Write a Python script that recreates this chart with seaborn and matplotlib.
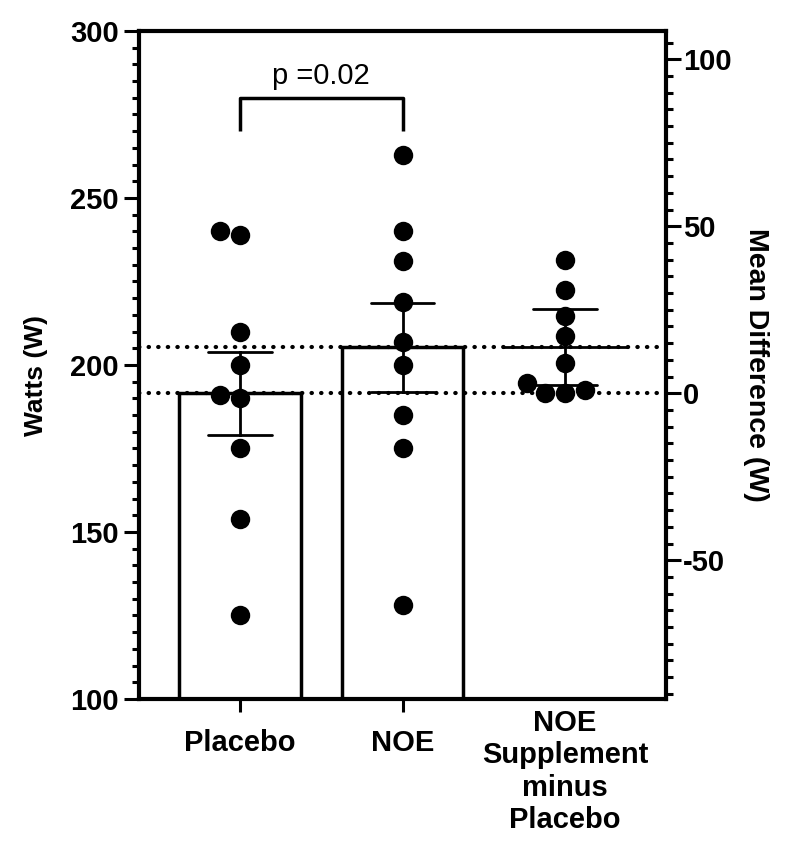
import matplotlib
matplotlib.use("Agg")
import matplotlib.pyplot as plt
from matplotlib.ticker import MultipleLocator
from matplotlib.transforms import ScaledTranslation
import seaborn as sns
import numpy as np
import pandas as pd

# values
categories = ["Placebo", "NOE", "NOE\nSupplement\nminus\nPlacebo"]
placebo_watts = [239, 240, 210, 200, 191, 190, 175, 154, 125]
noe_watts = [263, 240, 231, 219, 207, 200, 185, 175, 128]
diff_watts = [40, 31, 23, 17, 9, 3, 0, 0, 1]
p_text = "p =0.02"
bracket_top = 280
bracket_leg = 270
t_crit = 2.306   # t(0.975, df=8) -> 95% CI of the mean difference

sns.set_style("ticks")
plt.rcParams["font.family"] = ["Liberation Sans", "DejaVu Sans"]
plt.rcParams["font.weight"] = "bold"
plt.rcParams["axes.labelweight"] = "bold"
plt.rcParams["axes.unicode_minus"] = False
for k in ["text.color", "axes.labelcolor", "xtick.color", "ytick.color",
          "axes.edgecolor"]:
    plt.rcParams[k] = "black"

df = pd.DataFrame({
    "group": [categories[0]] * len(placebo_watts) + [categories[1]] * len(noe_watts),
    "watts": placebo_watts + noe_watts,
})
dd = pd.DataFrame({"group": [categories[2]] * len(diff_watts), "diff": diff_watts})

placebo_mean = np.mean(placebo_watts)
noe_mean = np.mean(noe_watts)


def ci95(x):
    m = np.mean(x)
    h = t_crit * np.std(x, ddof=1) / np.sqrt(len(x))
    return m - h, m + h


fig = plt.figure(figsize=(7.91, 8.63), dpi=100)
ax = fig.add_axes([139 / 791, 1 - 699 / 863, 527 / 791, 668 / 863])
ax2 = ax.twinx()

# bars with SEM
sns.barplot(data=df, x="group", y="watts", order=categories, errorbar="se",
            capsize=0.39, width=0.75, color="white", saturation=1,
            edgecolor="black", linewidth=2.5,
            err_kws={"color": "black", "linewidth": 2}, ax=ax)
sns.swarmplot(data=df, x="group", y="watts", order=categories, color="black",
              size=14, linewidth=0, ax=ax)

# dotted reference lines at both means
for m in (placebo_mean, noe_mean):
    ax.axhline(m, color="black", lw=3, linestyle=(0, (0.1, 2.2)),
               dash_capstyle="round")

# difference on right axis
sns.swarmplot(data=dd, x="group", y="diff", order=categories, color="black",
              size=14, linewidth=0, ax=ax2)
sns.pointplot(data=dd, x="group", y="diff", order=categories, errorbar=ci95,
              capsize=0.39, color="black", marker="_", markersize=91,
              markeredgewidth=2, linestyle="none",
              err_kws={"linewidth": 2}, ax=ax2)

ax.set_ylim(100, 300)
ax2.set_ylim(100 - placebo_mean, 300 - placebo_mean)
ax.set_xlim(-0.62, 2.62)

# significance bracket
ax.plot([0, 0, 1, 1], [bracket_leg, bracket_top, bracket_top, bracket_leg],
        color="black", lw=2.5, solid_capstyle="butt", clip_on=False)
ax.text(0.5, bracket_top + 4, p_text, ha="center", va="baseline",
        fontsize=21, fontweight="normal")

ax.yaxis.set_major_locator(MultipleLocator(50))
ax.yaxis.set_minor_locator(MultipleLocator(5))
ax2.yaxis.set_major_locator(MultipleLocator(50))
ax2.yaxis.set_minor_locator(MultipleLocator(5))

ax.set_xticks(range(len(categories)))
ax.set_xticklabels(categories)
ax.set_xlabel("")
ax.set_ylabel("Watts (W)", fontsize=19)
ax.yaxis.set_label_coords(-0.172, 0.484)
ax2.set_ylabel("Mean Difference (W)", fontsize=20.5, rotation=270,
               va="bottom", labelpad=8)

ax.tick_params(axis="y", which="major", length=10.5, width=2.2,
               labelsize=21, pad=4)
ax.tick_params(axis="y", which="minor", length=5, width=2.2)
ax.tick_params(axis="x", length=9.5, width=2.2, labelsize=21, pad=12)
ax2.tick_params(axis="y", which="major", length=10.5, width=2.2,
                labelsize=21, pad=2)
ax2.tick_params(axis="y", which="minor", length=5, width=2.2)

for s in ["left", "bottom", "top"]:
    ax.spines[s].set_linewidth(3)
ax.spines["right"].set_visible(False)
for s in ["left", "bottom", "top"]:
    ax2.spines[s].set_visible(False)
ax2.spines["right"].set_linewidth(3)

# the difference column has no bottom tick, and its label sits higher
ax.xaxis.get_major_ticks()[2].tick1line.set_visible(False)
lbl = ax.get_xticklabels()[2]
lbl.set_transform(lbl.get_transform() + ScaledTranslation(0, 0.2, fig.dpi_scale_trans))

fig.savefig("out.png", dpi=100)
